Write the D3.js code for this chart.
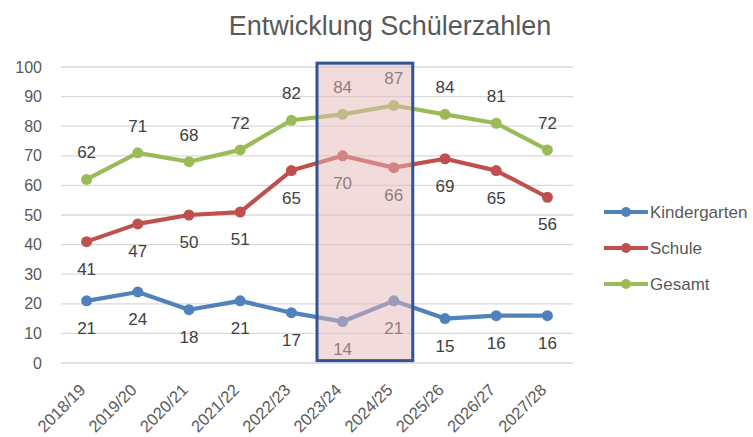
<!DOCTYPE html>
<html>
<head>
<meta charset="utf-8">
<script src="https://cdn.jsdelivr.net/npm/d3@7"></script>
<style>
  body { margin: 0; background: #fff; }
  text { font-family: "Liberation Sans", Arial, sans-serif; }
</style>
</head>
<body>
<script>
var years = ["2018/19", "2019/20", "2020/21", "2021/22", "2022/23", "2023/24", "2024/25", "2025/26", "2026/27", "2027/28"];
var kindergarten = [21, 24, 18, 21, 17, 14, 21, 15, 16, 16];
var schule = [41, 47, 50, 51, 65, 70, 66, 69, 65, 56];
var gesamt = [62, 71, 68, 72, 82, 84, 87, 84, 81, 72];
var yTicks = [0, 10, 20, 30, 40, 50, 60, 70, 80, 90, 100];
var highlight = ["2023/24", "2024/25"];

var series = [
  { name: "Kindergarten", values: kindergarten, color: "#4f81bd", labelDy: 27 },
  { name: "Schule", values: schule, color: "#c0504d", labelDy: 27 },
  { name: "Gesamt", values: gesamt, color: "#9bbb59", labelDy: -27 }
];

var width = 753, height = 437;
var margin = {top: 67, left: 61, right: 180, bottom: 74};
var plotW = width - margin.left - margin.right;
var plotH = height - margin.top - margin.bottom;

var svg = d3.select("body").append("svg")
    .attr("width", width)
    .attr("height", height);

var g = svg.append("g")
    .attr("transform", "translate(" + margin.left + "," + margin.top + ")");

var xScale = d3.scaleBand().domain(years).range([0, plotW]);
var yScale = d3.scaleLinear().domain([0, 100]).range([plotH, 0]);
var cx = function(d) { return xScale(d) + xScale.bandwidth() / 2; };

// title
svg.append("text")
    .attr("x", 390)
    .attr("y", 35)
    .attr("text-anchor", "middle")
    .style("font-size", "27px")
    .style("fill", "#595959")
    .text("Entwicklung Schülerzahlen");

// gridlines
g.selectAll("line.grid")
    .data(yTicks)
    .enter().append("line")
    .attr("class", "grid")
    .attr("x1", 0)
    .attr("x2", plotW)
    .attr("y1", function(d) { return yScale(d); })
    .attr("y2", function(d) { return yScale(d); })
    .style("stroke", "#d9d9d9")
    .style("stroke-width", 1.3);

// y axis
var yAxis = d3.axisLeft(yScale).tickValues(yTicks).tickSize(0).tickPadding(19);
var yG = g.append("g").call(yAxis);
yG.select(".domain").remove();
yG.selectAll("text")
    .style("font-size", "16px")
    .style("fill", "#595959")
    .style("font-family", "Liberation Sans, Arial, sans-serif");

// x axis
var xAxis = d3.axisBottom(xScale).tickSize(0);
var xG = g.append("g")
    .attr("transform", "translate(0," + plotH + ")")
    .call(xAxis);
xG.select(".domain").remove();
xG.selectAll("text")
    .style("text-anchor", "end")
    .style("font-size", "16.5px")
    .style("fill", "#595959")
    .style("font-family", "Liberation Sans, Arial, sans-serif")
    .attr("dy", null)
    .attr("y", 0)
    .attr("transform", "translate(0,28) rotate(-45)");

// lines
var line = d3.line()
    .x(function(d, i) { return cx(years[i]); })
    .y(function(d) { return yScale(d); });

series.forEach(function(s) {
  g.append("path")
      .datum(s.values)
      .attr("d", line)
      .style("fill", "none")
      .style("stroke", s.color)
      .style("stroke-width", 4.2)
      .style("stroke-linejoin", "round");

  g.selectAll("circle." + s.name)
      .data(s.values)
      .enter().append("circle")
      .attr("cx", function(d, i) { return cx(years[i]); })
      .attr("cy", function(d) { return yScale(d); })
      .attr("r", 5.5)
      .style("fill", s.color);

  g.selectAll("text." + s.name)
      .data(s.values)
      .enter().append("text")
      .attr("x", function(d, i) { return cx(years[i]); })
      .attr("y", function(d) { return yScale(d) + s.labelDy; })
      .attr("dy", "0.35em")
      .attr("text-anchor", "middle")
      .style("font-size", "17px")
      .style("fill", "#404040")
      .text(function(d) { return d; });
});

// highlight box
var hx0 = xScale(highlight[0]);
var hx1 = xScale(highlight[1]) + xScale.bandwidth() * 0.87;
g.append("rect")
    .attr("x", hx0)
    .attr("y", yScale(101.3))
    .attr("width", hx1 - hx0)
    .attr("height", yScale(0.8) - yScale(101.3))
    .style("fill", "#e6b8b7")
    .style("fill-opacity", 0.5)
    .style("stroke", "#2f5597")
    .style("stroke-width", 3);

// legend
var legend = svg.append("g").attr("transform", "translate(604,212)");
series.forEach(function(s, i) {
  var row = legend.append("g").attr("transform", "translate(0," + (i * 36) + ")");
  row.append("line")
      .attr("x1", 0).attr("x2", 44)
      .style("stroke", s.color)
      .style("stroke-width", 4);
  row.append("circle")
      .attr("cx", 22).attr("r", 5)
      .style("fill", s.color);
  row.append("text")
      .attr("x", 46)
      .attr("dy", "0.35em")
      .style("font-size", "17px")
      .style("fill", "#595959")
      .text(s.name);
});
</script>
</body>
</html>
